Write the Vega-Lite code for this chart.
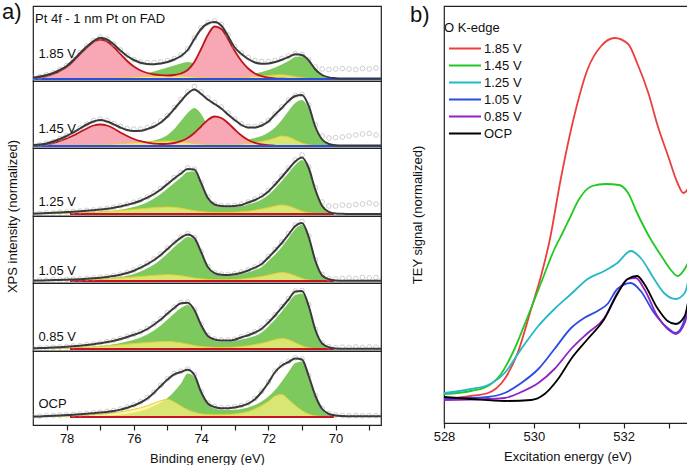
{
"$schema": "https://vega.github.io/schema/vega-lite/v6.json",
"padding": {"left": 2, "top": 1, "right": 0, "bottom": 0},
"config": {
  "font": "Liberation Sans",
  "view": {"stroke": "#222222", "strokeWidth": 1.2},
  "axis": {"labelFontSize": 13, "titleFontSize": 13, "titleFontWeight": "normal", "labelColor": "#111111", "titleColor": "#111111", "domainColor": "#222222", "tickColor": "#222222", "grid": false, "labelFlush": false},
  "legend": {"titleFontWeight": "normal", "titleFontSize": 13, "labelFontSize": 13, "labelColor": "#111111", "titleColor": "#111111"},
  "title": {"fontWeight": "normal", "color": "#111111"}
},
"resolve": {"scale": {"color": "independent"}, "legend": {"color": "independent"}},
"datasets": {
"xps": [
{"r":"1.85 V","e":79.0,"f":1.3,"g":0.2,"yl":0.2,"p":0.8,"d":1.5},
{"r":"1.85 V","e":78.8,"f":2.5,"g":0.3,"yl":0.2,"p":1.8,"d":2.2},
{"r":"1.85 V","e":78.6,"f":4,"g":0.3,"yl":0.3,"p":3,"d":4.3},
{"r":"1.85 V","e":78.4,"f":6,"g":0.4,"yl":0.3,"p":5,"d":6.2},
{"r":"1.85 V","e":78.2,"f":9,"g":0.5,"yl":0.4,"p":8,"d":9.5},
{"r":"1.85 V","e":78.0,"f":13,"g":0.6,"yl":0.4,"p":12,"d":13.5},
{"r":"1.85 V","e":77.8,"f":19,"g":0.7,"yl":0.5,"p":18,"d":19.5},
{"r":"1.85 V","e":77.6,"f":26,"g":0.8,"yl":0.5,"p":25,"d":26.5},
{"r":"1.85 V","e":77.4,"f":32.5,"g":1,"yl":0.6,"p":31.5,"d":33},
{"r":"1.85 V","e":77.2,"f":38,"g":1.2,"yl":0.6,"p":37,"d":38.5},
{"r":"1.85 V","e":77.0,"f":41.3,"g":1.4,"yl":0.7,"p":39.5,"d":42},
{"r":"1.85 V","e":76.8,"f":39.5,"g":1.7,"yl":0.8,"p":37.5,"d":40},
{"r":"1.85 V","e":76.6,"f":34.7,"g":2,"yl":1.0,"p":32,"d":35},
{"r":"1.85 V","e":76.4,"f":28.5,"g":2.5,"yl":1.2,"p":25,"d":29},
{"r":"1.85 V","e":76.2,"f":23,"g":3,"yl":1.5,"p":18,"d":23.5},
{"r":"1.85 V","e":76.0,"f":19,"g":3.8,"yl":1.9,"p":12.5,"d":19.5},
{"r":"1.85 V","e":75.8,"f":16.3,"g":4.8,"yl":2.3,"p":8.5,"d":17},
{"r":"1.85 V","e":75.6,"f":15,"g":6,"yl":2.7,"p":6,"d":16.5},
{"r":"1.85 V","e":75.4,"f":14.7,"g":7.5,"yl":3.0,"p":4.5,"d":16.5},
{"r":"1.85 V","e":75.2,"f":15.5,"g":9.5,"yl":3.3,"p":3.8,"d":17},
{"r":"1.85 V","e":75.0,"f":17,"g":11.5,"yl":3.5,"p":3.5,"d":18.5},
{"r":"1.85 V","e":74.8,"f":19.5,"g":13.5,"yl":3.3,"p":4,"d":20.5},
{"r":"1.85 V","e":74.6,"f":23,"g":15.5,"yl":3.0,"p":5.5,"d":24},
{"r":"1.85 V","e":74.4,"f":29,"g":17,"yl":2.4,"p":9,"d":30},
{"r":"1.85 V","e":74.2,"f":40,"g":15,"yl":1.8,"p":17,"d":41},
{"r":"1.85 V","e":74.0,"f":50,"g":10,"yl":1.4,"p":30,"d":51},
{"r":"1.85 V","e":73.8,"f":55.5,"g":5.5,"yl":1.0,"p":44,"d":56.5},
{"r":"1.85 V","e":73.6,"f":57,"g":3.5,"yl":0.9,"p":52.5,"d":58},
{"r":"1.85 V","e":73.4,"f":53.5,"g":3,"yl":0.8,"p":50,"d":54.5},
{"r":"1.85 V","e":73.2,"f":43,"g":3,"yl":0.9,"p":40,"d":44},
{"r":"1.85 V","e":73.0,"f":31.5,"g":3.3,"yl":1.0,"p":28,"d":32.5},
{"r":"1.85 V","e":72.8,"f":25,"g":3.8,"yl":1.4,"p":18,"d":26},
{"r":"1.85 V","e":72.6,"f":20,"g":4.5,"yl":1.8,"p":10.5,"d":21.5},
{"r":"1.85 V","e":72.4,"f":16.5,"g":5.5,"yl":2.4,"p":5.5,"d":18.5},
{"r":"1.85 V","e":72.2,"f":15.3,"g":7,"yl":3.0,"p":2.8,"d":17.5},
{"r":"1.85 V","e":72.0,"f":15.5,"g":9,"yl":3.5,"p":1.3,"d":17.5},
{"r":"1.85 V","e":71.8,"f":17,"g":11.5,"yl":4.0,"p":0.6,"d":18.5},
{"r":"1.85 V","e":71.6,"f":19.3,"g":14.5,"yl":4.2,"p":0.3,"d":20.5},
{"r":"1.85 V","e":71.4,"f":22,"g":18,"yl":3.5,"p":0.1,"d":23},
{"r":"1.85 V","e":71.2,"f":24.8,"g":22,"yl":2.3,"d":25.5},
{"r":"1.85 V","e":71.0,"f":24,"g":22.5,"yl":1.2,"d":24.5},
{"r":"1.85 V","e":70.8,"f":18.5,"g":17,"yl":0.5,"d":19},
{"r":"1.85 V","e":70.6,"f":9.5,"g":9,"yl":0.2,"d":12},
{"r":"1.85 V","e":70.4,"f":4,"g":3.5,"yl":0,"d":10},
{"r":"1.85 V","e":70.2,"f":1.6,"g":1.2,"d":9.5},
{"r":"1.85 V","e":70.0,"f":0.8,"g":0.4,"d":10},
{"r":"1.85 V","e":69.8,"f":0.5,"g":0.1,"d":10.5},
{"r":"1.85 V","e":69.6,"f":0.5,"d":10},
{"r":"1.85 V","e":69.4,"f":0.5,"d":9.5},
{"r":"1.85 V","e":69.2,"f":0.5,"d":10.5},
{"r":"1.85 V","e":69.0,"f":0.5,"d":10},
{"r":"1.85 V","e":68.8,"f":0.5,"d":11},
{"r":"1.85 V","e":68.6,"f":0.5,"d":10},
{"r":"1.45 V","e":79.0,"f":0.7,"g":0.2,"yl":0.2,"p":0.5,"d":0.8},
{"r":"1.45 V","e":78.8,"f":1.5,"g":0.2,"yl":0.25,"p":1,"d":1.3},
{"r":"1.45 V","e":78.6,"f":2.6,"g":0.3,"yl":0.3,"p":1.8,"d":2.8},
{"r":"1.45 V","e":78.4,"f":4.5,"g":0.3,"yl":0.4,"p":3,"d":4.3},
{"r":"1.45 V","e":78.2,"f":7,"g":0.4,"yl":0.5,"p":5,"d":7.5},
{"r":"1.45 V","e":78.0,"f":10,"g":0.5,"yl":0.6,"p":7.5,"d":10.5},
{"r":"1.45 V","e":77.8,"f":13.5,"g":0.6,"yl":0.7,"p":10.5,"d":14},
{"r":"1.45 V","e":77.6,"f":17.5,"g":0.7,"yl":0.85,"p":14,"d":18},
{"r":"1.45 V","e":77.4,"f":21.5,"g":0.8,"yl":1.0,"p":17.5,"d":22},
{"r":"1.45 V","e":77.2,"f":24.5,"g":0.9,"yl":1.2,"p":20.5,"d":25.5},
{"r":"1.45 V","e":77.0,"f":26,"g":1.0,"yl":1.4,"p":21.5,"d":27},
{"r":"1.45 V","e":76.8,"f":24.5,"g":1.1,"yl":1.7,"p":20.5,"d":25.5},
{"r":"1.45 V","e":76.6,"f":21.7,"g":1.3,"yl":2.0,"p":17.5,"d":22.5},
{"r":"1.45 V","e":76.4,"f":18.5,"g":1.6,"yl":2.4,"p":13.5,"d":19.5},
{"r":"1.45 V","e":76.2,"f":16,"g":2.0,"yl":2.8,"p":10,"d":17.5},
{"r":"1.45 V","e":76.0,"f":15,"g":2.5,"yl":3.2,"p":7,"d":17},
{"r":"1.45 V","e":75.8,"f":15.2,"g":3.0,"yl":3.7,"p":4.8,"d":17},
{"r":"1.45 V","e":75.6,"f":17,"g":4.0,"yl":4.1,"p":3.3,"d":18.5},
{"r":"1.45 V","e":75.4,"f":19.5,"g":5.5,"yl":4.5,"p":2.4,"d":21},
{"r":"1.45 V","e":75.2,"f":23.5,"g":7.5,"yl":4.8,"p":2,"d":25},
{"r":"1.45 V","e":75.0,"f":29.5,"g":11,"yl":5.0,"p":2.2,"d":30.5},
{"r":"1.45 V","e":74.8,"f":37,"g":17,"yl":4.8,"p":3,"d":38.5},
{"r":"1.45 V","e":74.6,"f":45,"g":25,"yl":4.3,"p":4.8,"d":46.5},
{"r":"1.45 V","e":74.4,"f":52.5,"g":33,"yl":3.5,"p":8,"d":54},
{"r":"1.45 V","e":74.2,"f":56.5,"g":38,"yl":2.6,"p":13,"d":59.5},
{"r":"1.45 V","e":74.0,"f":52,"g":32,"yl":2.0,"p":19.5,"d":54},
{"r":"1.45 V","e":73.8,"f":46.5,"g":20,"yl":1.5,"p":26,"d":48},
{"r":"1.45 V","e":73.6,"f":42,"g":11,"yl":1.3,"p":29.5,"d":43.5},
{"r":"1.45 V","e":73.4,"f":37.5,"g":7,"yl":1.2,"p":28,"d":39},
{"r":"1.45 V","e":73.2,"f":31.5,"g":5.5,"yl":1.3,"p":23,"d":33},
{"r":"1.45 V","e":73.0,"f":26,"g":5,"yl":1.5,"p":16.5,"d":27},
{"r":"1.45 V","e":72.8,"f":21,"g":5.5,"yl":2.0,"p":10.5,"d":22},
{"r":"1.45 V","e":72.6,"f":18.5,"g":6.5,"yl":2.5,"p":6,"d":19.5},
{"r":"1.45 V","e":72.4,"f":18.5,"g":8,"yl":3.4,"p":3.2,"d":19.5},
{"r":"1.45 V","e":72.2,"f":20.5,"g":10,"yl":4.5,"p":1.6,"d":21.5},
{"r":"1.45 V","e":72.0,"f":24.5,"g":13.5,"yl":6.0,"p":0.8,"d":25.5},
{"r":"1.45 V","e":71.8,"f":31.5,"g":18.5,"yl":8.0,"p":0.3,"d":32},
{"r":"1.45 V","e":71.6,"f":38,"g":26,"yl":10.0,"d":39},
{"r":"1.45 V","e":71.4,"f":45,"g":35,"yl":9.0,"d":46},
{"r":"1.45 V","e":71.2,"f":50,"g":43,"yl":6.0,"d":50.5},
{"r":"1.45 V","e":71.0,"f":51,"g":46,"yl":3.0,"d":51.5},
{"r":"1.45 V","e":70.8,"f":40,"g":37,"yl":1.2,"d":41},
{"r":"1.45 V","e":70.6,"f":19,"g":17,"yl":0.4,"d":21},
{"r":"1.45 V","e":70.4,"f":6.5,"g":5.5,"yl":0.1,"d":10},
{"r":"1.45 V","e":70.2,"f":2,"g":1.5,"d":8},
{"r":"1.45 V","e":70.0,"f":0.8,"g":0.4,"d":8.5},
{"r":"1.45 V","e":69.8,"f":0.5,"g":0.1,"d":9},
{"r":"1.45 V","e":69.6,"f":0.5,"d":10},
{"r":"1.45 V","e":69.4,"f":0.5,"d":11},
{"r":"1.45 V","e":69.2,"f":0.5,"d":12},
{"r":"1.45 V","e":69.0,"f":0.5,"d":12.5},
{"r":"1.45 V","e":68.8,"f":0.5,"d":11},
{"r":"1.45 V","e":68.6,"f":0.5,"d":8.5},
{"r":"1.25 V","e":79.0,"f":0.3,"g":0.1,"yl":0.2,"d":0.5},
{"r":"1.25 V","e":78.8,"f":0.6,"g":0.2,"yl":0.3,"d":0.4},
{"r":"1.25 V","e":78.6,"f":0.9,"g":0.3,"yl":0.4,"d":1.2},
{"r":"1.25 V","e":78.4,"f":1.2,"g":0.4,"yl":0.55,"d":1.0},
{"r":"1.25 V","e":78.2,"f":1.5,"g":0.5,"yl":0.7,"d":1.8},
{"r":"1.25 V","e":78.0,"f":1.9,"g":0.7,"yl":0.85,"d":2.0},
{"r":"1.25 V","e":77.8,"f":2.3,"g":0.9,"yl":1.0,"d":2.5},
{"r":"1.25 V","e":77.6,"f":2.8,"g":1.1,"yl":1.2,"d":3.0},
{"r":"1.25 V","e":77.4,"f":3.3,"g":1.4,"yl":1.5,"d":3.6},
{"r":"1.25 V","e":77.2,"f":3.8,"g":1.7,"yl":1.8,"d":4.0},
{"r":"1.25 V","e":77.0,"f":4.4,"g":2.1,"yl":2.2,"d":4.8},
{"r":"1.25 V","e":76.8,"f":5.2,"g":2.6,"yl":2.6,"d":5.5},
{"r":"1.25 V","e":76.6,"f":6.3,"g":3.3,"yl":3.0,"d":6.8},
{"r":"1.25 V","e":76.4,"f":7.6,"g":4.2,"yl":3.5,"d":8.2},
{"r":"1.25 V","e":76.2,"f":9.2,"g":5.4,"yl":4.0,"d":9.8},
{"r":"1.25 V","e":76.0,"f":11,"g":7,"yl":4.6,"d":11.8},
{"r":"1.25 V","e":75.8,"f":13.3,"g":9,"yl":5.2,"d":14},
{"r":"1.25 V","e":75.6,"f":16.3,"g":11.8,"yl":5.8,"d":17},
{"r":"1.25 V","e":75.4,"f":20,"g":15.5,"yl":6.3,"d":21},
{"r":"1.25 V","e":75.2,"f":24.5,"g":20,"yl":6.7,"d":25.5},
{"r":"1.25 V","e":75.0,"f":30,"g":25.5,"yl":7.0,"d":31},
{"r":"1.25 V","e":74.8,"f":35.5,"g":31,"yl":6.6,"d":36.5},
{"r":"1.25 V","e":74.6,"f":40.5,"g":36.5,"yl":5.8,"d":41.5},
{"r":"1.25 V","e":74.4,"f":45,"g":42,"yl":4.6,"d":46},
{"r":"1.25 V","e":74.2,"f":44.5,"g":42.5,"yl":3.3,"d":45},
{"r":"1.25 V","e":74.0,"f":31,"g":29.5,"yl":2.4,"d":31.5},
{"r":"1.25 V","e":73.8,"f":16,"g":15,"yl":1.8,"d":17},
{"r":"1.25 V","e":73.6,"f":9.5,"g":8.5,"yl":1.5,"d":10},
{"r":"1.25 V","e":73.4,"f":8,"g":7,"yl":1.4,"d":8.5},
{"r":"1.25 V","e":73.2,"f":7.7,"g":6.7,"yl":1.5,"d":8.2},
{"r":"1.25 V","e":73.0,"f":8,"g":7,"yl":1.7,"d":8.5},
{"r":"1.25 V","e":72.8,"f":9,"g":7.8,"yl":2.2,"d":9.8},
{"r":"1.25 V","e":72.6,"f":11.5,"g":9.5,"yl":2.8,"d":12},
{"r":"1.25 V","e":72.4,"f":14,"g":11.5,"yl":3.8,"d":15},
{"r":"1.25 V","e":72.2,"f":17.5,"g":14.5,"yl":5.0,"d":18.5},
{"r":"1.25 V","e":72.0,"f":22.5,"g":19,"yl":6.4,"d":23.5},
{"r":"1.25 V","e":71.8,"f":29.5,"g":25.5,"yl":8.0,"d":30.5},
{"r":"1.25 V","e":71.6,"f":37,"g":33,"yl":9.0,"d":38},
{"r":"1.25 V","e":71.4,"f":45,"g":41,"yl":8.0,"d":46},
{"r":"1.25 V","e":71.2,"f":52.5,"g":49,"yl":5.5,"d":54},
{"r":"1.25 V","e":71.0,"f":56.5,"g":54,"yl":2.8,"d":59},
{"r":"1.25 V","e":70.8,"f":46,"g":44.5,"yl":1.1,"d":47},
{"r":"1.25 V","e":70.6,"f":24,"g":23,"yl":0.4,"d":26},
{"r":"1.25 V","e":70.4,"f":8,"g":7.5,"yl":0.1,"d":12},
{"r":"1.25 V","e":70.2,"f":2.2,"g":2,"d":8},
{"r":"1.25 V","e":70.0,"f":0.6,"g":0.5,"d":8},
{"r":"1.25 V","e":69.8,"f":0.2,"g":0.1,"d":9},
{"r":"1.25 V","e":69.6,"f":0,"d":8.5},
{"r":"1.25 V","e":69.4,"f":0,"d":9.5},
{"r":"1.25 V","e":69.2,"f":0,"d":10},
{"r":"1.25 V","e":69.0,"f":0,"d":11},
{"r":"1.25 V","e":68.8,"f":0,"d":10},
{"r":"1.25 V","e":68.6,"f":0,"d":9.5},
{"r":"1.05 V","e":79.0,"f":0.3,"g":0.1,"yl":0.2,"d":0.3},
{"r":"1.05 V","e":78.8,"f":0.5,"g":0.2,"yl":0.25,"d":0.8},
{"r":"1.05 V","e":78.6,"f":0.7,"g":0.3,"yl":0.3,"d":0.6},
{"r":"1.05 V","e":78.4,"f":0.9,"g":0.4,"yl":0.4,"d":1.2},
{"r":"1.05 V","e":78.2,"f":1.1,"g":0.5,"yl":0.5,"d":1.0},
{"r":"1.05 V","e":78.0,"f":1.3,"g":0.6,"yl":0.65,"d":1.6},
{"r":"1.05 V","e":77.8,"f":1.5,"g":0.7,"yl":0.8,"d":1.8},
{"r":"1.05 V","e":77.6,"f":1.8,"g":0.9,"yl":1.0,"d":2.0},
{"r":"1.05 V","e":77.4,"f":2.2,"g":1.1,"yl":1.2,"d":2.6},
{"r":"1.05 V","e":77.2,"f":2.7,"g":1.4,"yl":1.5,"d":3.0},
{"r":"1.05 V","e":77.0,"f":3.3,"g":1.8,"yl":1.8,"d":3.7},
{"r":"1.05 V","e":76.8,"f":4.1,"g":2.3,"yl":2.2,"d":4.5},
{"r":"1.05 V","e":76.6,"f":5,"g":3,"yl":2.6,"d":5.4},
{"r":"1.05 V","e":76.4,"f":6.3,"g":3.9,"yl":3.0,"d":6.8},
{"r":"1.05 V","e":76.2,"f":8,"g":5.2,"yl":3.5,"d":8.5},
{"r":"1.05 V","e":76.0,"f":10.3,"g":7,"yl":4.0,"d":11},
{"r":"1.05 V","e":75.8,"f":13.3,"g":9.5,"yl":4.6,"d":14},
{"r":"1.05 V","e":75.6,"f":17,"g":12.8,"yl":5.1,"d":17.8},
{"r":"1.05 V","e":75.4,"f":21,"g":16.5,"yl":5.6,"d":22},
{"r":"1.05 V","e":75.2,"f":26,"g":21.5,"yl":6.0,"d":27},
{"r":"1.05 V","e":75.0,"f":32,"g":27.5,"yl":6.3,"d":33},
{"r":"1.05 V","e":74.8,"f":38,"g":34,"yl":6.0,"d":38.8},
{"r":"1.05 V","e":74.6,"f":43.3,"g":39.5,"yl":5.3,"d":44},
{"r":"1.05 V","e":74.4,"f":46.5,"g":44,"yl":4.2,"d":47.3},
{"r":"1.05 V","e":74.2,"f":43,"g":41.5,"yl":3.0,"d":43.5},
{"r":"1.05 V","e":74.0,"f":29,"g":27.5,"yl":2.2,"d":29.5},
{"r":"1.05 V","e":73.8,"f":14,"g":13,"yl":1.6,"d":14.5},
{"r":"1.05 V","e":73.6,"f":7.8,"g":7,"yl":1.35,"d":8.3},
{"r":"1.05 V","e":73.4,"f":6.2,"g":5.5,"yl":1.2,"d":6.8},
{"r":"1.05 V","e":73.2,"f":6,"g":5.3,"yl":1.3,"d":6.5},
{"r":"1.05 V","e":73.0,"f":6.7,"g":5.8,"yl":1.5,"d":7.2},
{"r":"1.05 V","e":72.8,"f":8.3,"g":7,"yl":2.0,"d":9},
{"r":"1.05 V","e":72.6,"f":10.5,"g":8.8,"yl":2.6,"d":11.2},
{"r":"1.05 V","e":72.4,"f":13.3,"g":11,"yl":3.5,"d":14},
{"r":"1.05 V","e":72.2,"f":17,"g":14,"yl":4.6,"d":18},
{"r":"1.05 V","e":72.0,"f":23.5,"g":20,"yl":5.9,"d":24.5},
{"r":"1.05 V","e":71.8,"f":30.5,"g":26.5,"yl":7.5,"d":31.5},
{"r":"1.05 V","e":71.6,"f":38,"g":34,"yl":8.5,"d":39},
{"r":"1.05 V","e":71.4,"f":46.5,"g":43,"yl":7.6,"d":47.5},
{"r":"1.05 V","e":71.2,"f":55,"g":52,"yl":5.2,"d":56},
{"r":"1.05 V","e":71.0,"f":58,"g":56,"yl":2.6,"d":59.5},
{"r":"1.05 V","e":70.8,"f":44,"g":42.5,"yl":1.0,"d":45},
{"r":"1.05 V","e":70.6,"f":20,"g":19,"yl":0.3,"d":21},
{"r":"1.05 V","e":70.4,"f":5.5,"g":5,"yl":0.1,"d":6.5},
{"r":"1.05 V","e":70.2,"f":1.8,"g":1.5,"d":2.5},
{"r":"1.05 V","e":70.0,"f":0.6,"g":0.4,"d":2},
{"r":"1.05 V","e":69.8,"f":0.3,"g":0.1,"d":2.5},
{"r":"1.05 V","e":69.6,"f":0.3,"d":3},
{"r":"1.05 V","e":69.4,"f":0.3,"d":2.5},
{"r":"1.05 V","e":69.2,"f":0.3,"d":3.5},
{"r":"1.05 V","e":69.0,"f":0.3,"d":3},
{"r":"1.05 V","e":68.8,"f":0.3,"d":3.5},
{"r":"1.05 V","e":68.6,"f":0.3,"d":3},
{"r":"0.85 V","e":79.0,"f":0.7,"g":0.2,"yl":0.3,"d":0.8},
{"r":"0.85 V","e":78.8,"f":0.9,"g":0.3,"yl":0.4,"d":1.1},
{"r":"0.85 V","e":78.6,"f":1.1,"g":0.4,"yl":0.5,"d":1.0},
{"r":"0.85 V","e":78.4,"f":1.4,"g":0.5,"yl":0.65,"d":1.6},
{"r":"0.85 V","e":78.2,"f":1.8,"g":0.7,"yl":0.8,"d":2.0},
{"r":"0.85 V","e":78.0,"f":2.2,"g":0.9,"yl":1.0,"d":2.3},
{"r":"0.85 V","e":77.8,"f":2.7,"g":1.1,"yl":1.2,"d":3.0},
{"r":"0.85 V","e":77.6,"f":3.3,"g":1.4,"yl":1.5,"d":3.5},
{"r":"0.85 V","e":77.4,"f":4,"g":1.8,"yl":1.8,"d":4.3},
{"r":"0.85 V","e":77.2,"f":4.8,"g":2.3,"yl":2.2,"d":5.1},
{"r":"0.85 V","e":77.0,"f":5.7,"g":2.9,"yl":2.6,"d":6.0},
{"r":"0.85 V","e":76.8,"f":6.9,"g":3.7,"yl":3.1,"d":7.3},
{"r":"0.85 V","e":76.6,"f":8.3,"g":4.7,"yl":3.6,"d":8.8},
{"r":"0.85 V","e":76.4,"f":10,"g":6,"yl":4.2,"d":10.5},
{"r":"0.85 V","e":76.2,"f":12,"g":7.5,"yl":4.8,"d":12.5},
{"r":"0.85 V","e":76.0,"f":14.2,"g":9.2,"yl":5.4,"d":14.8},
{"r":"0.85 V","e":75.8,"f":16.7,"g":11.5,"yl":6.0,"d":17.3},
{"r":"0.85 V","e":75.6,"f":20,"g":14.5,"yl":6.5,"d":20.7},
{"r":"0.85 V","e":75.4,"f":24.5,"g":18.5,"yl":7.0,"d":25.2},
{"r":"0.85 V","e":75.2,"f":29.5,"g":23.5,"yl":7.3,"d":30.3},
{"r":"0.85 V","e":75.0,"f":35.5,"g":29.5,"yl":7.5,"d":36.3},
{"r":"0.85 V","e":74.8,"f":41,"g":35.5,"yl":7.1,"d":41.8},
{"r":"0.85 V","e":74.6,"f":45.8,"g":41,"yl":6.2,"d":46.5},
{"r":"0.85 V","e":74.4,"f":46.3,"g":44,"yl":4.9,"d":47},
{"r":"0.85 V","e":74.2,"f":39,"g":37.5,"yl":3.5,"d":39.5},
{"r":"0.85 V","e":74.0,"f":24,"g":22.5,"yl":2.5,"d":24.5},
{"r":"0.85 V","e":73.8,"f":13,"g":11.8,"yl":1.9,"d":13.5},
{"r":"0.85 V","e":73.6,"f":9.5,"g":8.3,"yl":1.6,"d":10},
{"r":"0.85 V","e":73.4,"f":8.5,"g":7.3,"yl":1.5,"d":9},
{"r":"0.85 V","e":73.2,"f":8.4,"g":7.2,"yl":1.6,"d":9},
{"r":"0.85 V","e":73.0,"f":9.3,"g":8,"yl":1.9,"d":9.8},
{"r":"0.85 V","e":72.8,"f":11.7,"g":9.5,"yl":2.5,"d":12.3},
{"r":"0.85 V","e":72.6,"f":13.8,"g":11,"yl":3.2,"d":14.5},
{"r":"0.85 V","e":72.4,"f":16.5,"g":13,"yl":4.4,"d":17.2},
{"r":"0.85 V","e":72.2,"f":20.3,"g":16.5,"yl":5.8,"d":21},
{"r":"0.85 V","e":72.0,"f":26.5,"g":22.5,"yl":7.5,"d":27.3},
{"r":"0.85 V","e":71.8,"f":33.5,"g":29.5,"yl":9.3,"d":34.3},
{"r":"0.85 V","e":71.6,"f":41.5,"g":37.5,"yl":10.5,"d":42.3},
{"r":"0.85 V","e":71.4,"f":49.5,"g":46,"yl":9.3,"d":50.5},
{"r":"0.85 V","e":71.2,"f":57.5,"g":54,"yl":6.4,"d":58},
{"r":"0.85 V","e":71.0,"f":58,"g":55.5,"yl":3.2,"d":58.5},
{"r":"0.85 V","e":70.8,"f":43,"g":41.5,"yl":1.2,"d":44},
{"r":"0.85 V","e":70.6,"f":19,"g":18,"yl":0.4,"d":19.5},
{"r":"0.85 V","e":70.4,"f":5.5,"g":5,"yl":0.1,"d":6},
{"r":"0.85 V","e":70.2,"f":1.8,"g":1.5,"d":2.3},
{"r":"0.85 V","e":70.0,"f":0.6,"g":0.4,"d":1.5},
{"r":"0.85 V","e":69.8,"f":0.3,"g":0.1,"d":1.8},
{"r":"0.85 V","e":69.6,"f":0.3,"d":1.5},
{"r":"0.85 V","e":69.4,"f":0.3,"d":2},
{"r":"0.85 V","e":69.2,"f":0.3,"d":1.6},
{"r":"0.85 V","e":69.0,"f":0.3,"d":2},
{"r":"0.85 V","e":68.8,"f":0.3,"d":1.8},
{"r":"0.85 V","e":68.6,"f":0.3,"d":2},
{"r":"OCP","e":79.0,"f":0.3,"g":0.1,"yl":0.2,"d":0.5},
{"r":"OCP","e":78.8,"f":0.6,"g":0.1,"yl":0.3,"d":0.8},
{"r":"OCP","e":78.6,"f":0.9,"g":0.2,"yl":0.4,"d":1.2},
{"r":"OCP","e":78.4,"f":1.2,"g":0.2,"yl":0.5,"d":1.4},
{"r":"OCP","e":78.2,"f":1.5,"g":0.3,"yl":0.7,"d":1.8},
{"r":"OCP","e":78.0,"f":1.9,"g":0.4,"yl":0.9,"d":2.2},
{"r":"OCP","e":77.8,"f":2.3,"g":0.5,"yl":1.1,"d":2.6},
{"r":"OCP","e":77.6,"f":2.7,"g":0.6,"yl":1.4,"d":3.0},
{"r":"OCP","e":77.4,"f":3.2,"g":0.7,"yl":1.8,"d":3.5},
{"r":"OCP","e":77.2,"f":3.8,"g":0.9,"yl":2.3,"d":4.2},
{"r":"OCP","e":77.0,"f":4.4,"g":1.1,"yl":2.8,"d":4.8},
{"r":"OCP","e":76.8,"f":5.1,"g":1.4,"yl":3.4,"d":5.6},
{"r":"OCP","e":76.6,"f":6,"g":1.8,"yl":4.2,"d":6.5},
{"r":"OCP","e":76.4,"f":7.4,"g":2.4,"yl":5.1,"d":8},
{"r":"OCP","e":76.2,"f":9.3,"g":3.2,"yl":6.3,"d":10},
{"r":"OCP","e":76.0,"f":11.5,"g":4.3,"yl":7.7,"d":12.2},
{"r":"OCP","e":75.8,"f":14.5,"g":5.8,"yl":9.3,"d":15.3},
{"r":"OCP","e":75.6,"f":18.5,"g":8,"yl":11.3,"d":19.3},
{"r":"OCP","e":75.4,"f":24.3,"g":11,"yl":13.8,"d":25},
{"r":"OCP","e":75.2,"f":31,"g":14.5,"yl":16.3,"d":31.7},
{"r":"OCP","e":75.0,"f":37.5,"g":19,"yl":17.7,"d":38.3},
{"r":"OCP","e":74.8,"f":42.7,"g":25.5,"yl":15,"d":43.5},
{"r":"OCP","e":74.6,"f":45,"g":33.5,"yl":11,"d":45.8},
{"r":"OCP","e":74.4,"f":47.3,"g":43.5,"yl":7.3,"d":48},
{"r":"OCP","e":74.2,"f":42,"g":40,"yl":4.7,"d":42.5},
{"r":"OCP","e":74.0,"f":25,"g":23.5,"yl":3.2,"d":25.5},
{"r":"OCP","e":73.8,"f":13.5,"g":12.5,"yl":2.5,"d":14},
{"r":"OCP","e":73.6,"f":10,"g":8.5,"yl":2.2,"d":10.5},
{"r":"OCP","e":73.4,"f":8.7,"g":7.2,"yl":2.2,"d":9.3},
{"r":"OCP","e":73.2,"f":8.7,"g":7,"yl":2.5,"d":9.3},
{"r":"OCP","e":73.0,"f":9.5,"g":7.2,"yl":3.0,"d":10.2},
{"r":"OCP","e":72.8,"f":11,"g":8,"yl":4.0,"d":11.7},
{"r":"OCP","e":72.6,"f":13.3,"g":9.5,"yl":5.5,"d":14},
{"r":"OCP","e":72.4,"f":17.7,"g":12,"yl":8.0,"d":18.5},
{"r":"OCP","e":72.2,"f":25,"g":15.5,"yl":11.5,"d":25.8},
{"r":"OCP","e":72.0,"f":34.3,"g":20.5,"yl":15.5,"d":35},
{"r":"OCP","e":71.8,"f":45,"g":27,"yl":21,"d":45.8},
{"r":"OCP","e":71.6,"f":51.5,"g":35.5,"yl":22.5,"d":52.2},
{"r":"OCP","e":71.4,"f":55,"g":45,"yl":17.5,"d":55.8},
{"r":"OCP","e":71.2,"f":58.5,"g":54,"yl":11.5,"d":59.2},
{"r":"OCP","e":71.0,"f":57.5,"g":55.5,"yl":6.5,"d":58},
{"r":"OCP","e":70.8,"f":41,"g":40,"yl":3.0,"d":41.5},
{"r":"OCP","e":70.6,"f":21,"g":20,"yl":1.2,"d":21.5},
{"r":"OCP","e":70.4,"f":8,"g":7,"yl":0.4,"d":8.5},
{"r":"OCP","e":70.2,"f":3,"g":2,"yl":0.1,"d":3.5},
{"r":"OCP","e":70.0,"f":1.5,"g":0.5,"d":2},
{"r":"OCP","e":69.8,"f":1,"g":0.1,"d":1.5},
{"r":"OCP","e":69.6,"f":0.8,"d":1.3},
{"r":"OCP","e":69.4,"f":0.8,"d":1.5},
{"r":"OCP","e":69.2,"f":0.8,"d":1.2},
{"r":"OCP","e":69.0,"f":0.8,"d":1.4},
{"r":"OCP","e":68.8,"f":0.8,"d":1.3},
{"r":"OCP","e":68.6,"f":0.8,"d":1.5}
],
"xas": [
{"s":"1.85 V","e":528,"t":0.24},{"s":"1.85 V","e":528.6,"t":0.27},{"s":"1.85 V","e":528.98,"t":0.30},{"s":"1.85 V","e":529.35,"t":0.44},{"s":"1.85 V","e":529.64,"t":0.70},{"s":"1.85 V","e":529.94,"t":1.14},{"s":"1.85 V","e":530.16,"t":1.47},{"s":"1.85 V","e":530.35,"t":1.82},{"s":"1.85 V","e":530.6,"t":2.44},{"s":"1.85 V","e":530.9,"t":3.07},{"s":"1.85 V","e":531.2,"t":3.54},{"s":"1.85 V","e":531.5,"t":3.77},{"s":"1.85 V","e":531.8,"t":3.85},{"s":"1.85 V","e":532.1,"t":3.79},{"s":"1.85 V","e":532.3,"t":3.60},{"s":"1.85 V","e":532.55,"t":3.30},{"s":"1.85 V","e":532.76,"t":2.97},{"s":"1.85 V","e":532.99,"t":2.67},{"s":"1.85 V","e":533.2,"t":2.40},{"s":"1.85 V","e":533.33,"t":2.30},{"s":"1.85 V","e":533.44,"t":2.35},{"s":"1.85 V","e":533.5,"t":2.44},
{"s":"1.45 V","e":528,"t":0.29},{"s":"1.45 V","e":528.6,"t":0.32},{"s":"1.45 V","e":528.98,"t":0.37},{"s":"1.45 V","e":529.27,"t":0.49},{"s":"1.45 V","e":529.57,"t":0.74},{"s":"1.45 V","e":529.87,"t":1.07},{"s":"1.45 V","e":530.16,"t":1.40},{"s":"1.45 V","e":530.46,"t":1.74},{"s":"1.45 V","e":530.64,"t":1.90},{"s":"1.45 V","e":530.79,"t":2.04},{"s":"1.45 V","e":531.01,"t":2.24},{"s":"1.45 V","e":531.3,"t":2.37},{"s":"1.45 V","e":531.6,"t":2.39},{"s":"1.45 V","e":531.9,"t":2.38},{"s":"1.45 V","e":532.1,"t":2.30},{"s":"1.45 V","e":532.3,"t":2.10},{"s":"1.45 V","e":532.6,"t":1.84},{"s":"1.45 V","e":532.84,"t":1.67},{"s":"1.45 V","e":533.07,"t":1.52},{"s":"1.45 V","e":533.2,"t":1.47},{"s":"1.45 V","e":533.36,"t":1.54},{"s":"1.45 V","e":533.5,"t":1.67},
{"s":"1.25 V","e":528,"t":0.30},{"s":"1.25 V","e":528.6,"t":0.34},{"s":"1.25 V","e":528.98,"t":0.38},{"s":"1.25 V","e":529.35,"t":0.50},{"s":"1.25 V","e":529.72,"t":0.74},{"s":"1.25 V","e":530.1,"t":0.97},{"s":"1.25 V","e":530.46,"t":1.14},{"s":"1.25 V","e":530.83,"t":1.29},{"s":"1.25 V","e":531.2,"t":1.44},{"s":"1.25 V","e":531.57,"t":1.52},{"s":"1.25 V","e":531.86,"t":1.60},{"s":"1.25 V","e":532.16,"t":1.72},{"s":"1.25 V","e":532.38,"t":1.65},{"s":"1.25 V","e":532.68,"t":1.44},{"s":"1.25 V","e":532.9,"t":1.30},{"s":"1.25 V","e":533.16,"t":1.24},{"s":"1.25 V","e":533.36,"t":1.30},{"s":"1.25 V","e":533.5,"t":1.57},
{"s":"1.05 V","e":528,"t":0.25},{"s":"1.05 V","e":528.6,"t":0.25},{"s":"1.05 V","e":528.98,"t":0.26},{"s":"1.05 V","e":529.35,"t":0.30},{"s":"1.05 V","e":529.72,"t":0.40},{"s":"1.05 V","e":530.1,"t":0.54},{"s":"1.05 V","e":530.46,"t":0.74},{"s":"1.05 V","e":530.83,"t":0.95},{"s":"1.05 V","e":531.12,"t":1.05},{"s":"1.05 V","e":531.42,"t":1.12},{"s":"1.05 V","e":531.64,"t":1.19},{"s":"1.05 V","e":531.86,"t":1.34},{"s":"1.05 V","e":532.16,"t":1.40},{"s":"1.05 V","e":532.38,"t":1.32},{"s":"1.05 V","e":532.68,"t":1.10},{"s":"1.05 V","e":532.98,"t":0.95},{"s":"1.05 V","e":533.16,"t":0.90},{"s":"1.05 V","e":533.36,"t":1.04},{"s":"1.05 V","e":533.5,"t":1.37},
{"s":"0.85 V","e":528,"t":0.23},{"s":"0.85 V","e":528.98,"t":0.24},{"s":"0.85 V","e":529.35,"t":0.25},{"s":"0.85 V","e":529.72,"t":0.31},{"s":"0.85 V","e":530.1,"t":0.40},{"s":"0.85 V","e":530.46,"t":0.54},{"s":"0.85 V","e":530.83,"t":0.74},{"s":"0.85 V","e":531.2,"t":0.90},{"s":"0.85 V","e":531.57,"t":1.05},{"s":"0.85 V","e":531.86,"t":1.30},{"s":"0.85 V","e":532.09,"t":1.44},{"s":"0.85 V","e":532.27,"t":1.45},{"s":"0.85 V","e":532.46,"t":1.34},{"s":"0.85 V","e":532.75,"t":1.07},{"s":"0.85 V","e":532.98,"t":0.94},{"s":"0.85 V","e":533.16,"t":0.89},{"s":"0.85 V","e":533.36,"t":1.00},{"s":"0.85 V","e":533.5,"t":1.34},
{"s":"OCP","e":528,"t":0.26},{"s":"OCP","e":528.6,"t":0.24},{"s":"OCP","e":529.35,"t":0.22},{"s":"OCP","e":529.94,"t":0.23},{"s":"OCP","e":530.24,"t":0.29},{"s":"OCP","e":530.54,"t":0.44},{"s":"OCP","e":530.83,"t":0.64},{"s":"OCP","e":531.2,"t":0.84},{"s":"OCP","e":531.57,"t":1.04},{"s":"OCP","e":531.86,"t":1.29},{"s":"OCP","e":532.09,"t":1.44},{"s":"OCP","e":532.3,"t":1.47},{"s":"OCP","e":532.46,"t":1.39},{"s":"OCP","e":532.75,"t":1.15},{"s":"OCP","e":532.98,"t":1.02},{"s":"OCP","e":533.16,"t":0.99},{"s":"OCP","e":533.36,"t":1.07},{"s":"OCP","e":533.5,"t":1.40}
]
},
"hconcat": [
{
"data": {"name": "xps"},
"bounds": "flush",
"spacing": 0,
"title": {"text": "a)", "anchor": "start", "frame": "group", "dx": -31, "offset": -19, "fontSize": 22, "fontWeight": "normal"},
"vconcat": [
{
"width": 348, "height": 75,
"transform": [{"filter": "datum.r === '1.85 V'"}],
"encoding": {"x": {"field": "e", "type": "quantitative", "scale": {"domain": [68.65, 79], "reverse": true, "nice": false, "zero": false}, "axis": null}},
"layer": [
{"mark": {"type": "area", "color": "#7dc95e", "interpolate": "monotone", "clip": true}, "encoding": {"y": {"field": "g", "type": "quantitative", "scale": {"domain": [-2, 73], "nice": false, "zero": false}, "axis": null}, "y2": {"datum": 0}}},
{"mark": {"type": "area", "color": "#f7a8b4", "interpolate": "monotone", "clip": true}, "encoding": {"y": {"field": "p", "type": "quantitative", "scale": {"domain": [-2, 73], "nice": false, "zero": false}, "axis": null}, "y2": {"datum": 0}}},
{"mark": {"type": "area", "color": "#fff27c", "interpolate": "monotone", "clip": true, "line": {"color": "#e9cd35", "strokeWidth": 1}}, "encoding": {"y": {"field": "yl", "type": "quantitative", "scale": {"domain": [-2, 73], "nice": false, "zero": false}, "axis": null}, "y2": {"datum": 0}}},
{"mark": {"type": "line", "color": "#c0141c", "strokeWidth": 1.8, "interpolate": "monotone", "clip": true}, "encoding": {"y": {"field": "p", "type": "quantitative", "scale": {"domain": [-2, 73], "nice": false, "zero": false}, "axis": null}}},
{"transform": [{"filter": "datum.e === 79"}], "mark": {"type": "rule", "color": "#2b4fd8", "strokeWidth": 1.8}, "encoding": {"x": {"datum": 79, "axis": null}, "x2": {"datum": 68.65}, "y": {"datum": 0, "axis": null}}},
{"mark": {"type": "point", "filled": false, "color": "#a9a9a9", "size": 22, "strokeWidth": 0.8, "clip": true}, "encoding": {"y": {"field": "d", "type": "quantitative", "scale": {"domain": [-2, 73], "nice": false, "zero": false}, "axis": null}}},
{"mark": {"type": "line", "color": "#3a3a3a", "strokeWidth": 2, "interpolate": "monotone", "clip": true}, "encoding": {"y": {"field": "f", "type": "quantitative", "scale": {"domain": [-2, 73], "nice": false, "zero": false}, "axis": null}}},
{"transform": [{"filter": "datum.e === 79"}], "mark": {"type": "text", "align": "left", "baseline": "middle", "fontSize": 13, "color": "#111111"}, "encoding": {"x": {"datum": 78.84, "axis": null}, "y": {"datum": 24.7, "axis": null}, "text": {"value": "1.85 V"}}},
{"transform": [{"filter": "datum.e === 79"}], "mark": {"type": "text", "align": "left", "baseline": "middle", "fontSize": 13, "color": "#111111"}, "encoding": {"x": {"datum": 78.94, "axis": null}, "y": {"datum": 60.3, "axis": null}, "text": {"value": "Pt 4f - 1 nm Pt on FAD"}}}
]
},
{
"width": 348, "height": 67,
"transform": [{"filter": "datum.r === '1.45 V'"}],
"encoding": {"x": {"field": "e", "type": "quantitative", "scale": {"domain": [68.65, 79], "reverse": true, "nice": false, "zero": false}, "axis": null}},
"layer": [
{"mark": {"type": "area", "color": "#7dc95e", "interpolate": "monotone", "clip": true}, "encoding": {"y": {"field": "g", "type": "quantitative", "scale": {"domain": [-2, 65], "nice": false, "zero": false}, "axis": null}, "y2": {"datum": 0}}},
{"mark": {"type": "area", "color": "#f7a8b4", "interpolate": "monotone", "clip": true}, "encoding": {"y": {"field": "p", "type": "quantitative", "scale": {"domain": [-2, 65], "nice": false, "zero": false}, "axis": null}, "y2": {"datum": 0}}},
{"mark": {"type": "area", "color": "#fff27c", "interpolate": "monotone", "clip": true, "line": {"color": "#e9cd35", "strokeWidth": 1}}, "encoding": {"y": {"field": "yl", "type": "quantitative", "scale": {"domain": [-2, 65], "nice": false, "zero": false}, "axis": null}, "y2": {"datum": 0}}},
{"mark": {"type": "line", "color": "#c0141c", "strokeWidth": 1.8, "interpolate": "monotone", "clip": true}, "encoding": {"y": {"field": "p", "type": "quantitative", "scale": {"domain": [-2, 65], "nice": false, "zero": false}, "axis": null}}},
{"transform": [{"filter": "datum.e === 79"}], "mark": {"type": "rule", "color": "#2b4fd8", "strokeWidth": 1.8}, "encoding": {"x": {"datum": 79, "axis": null}, "x2": {"datum": 68.65}, "y": {"datum": 0, "axis": null}}},
{"mark": {"type": "point", "filled": false, "color": "#a9a9a9", "size": 22, "strokeWidth": 0.8, "clip": true}, "encoding": {"y": {"field": "d", "type": "quantitative", "scale": {"domain": [-2, 65], "nice": false, "zero": false}, "axis": null}}},
{"mark": {"type": "line", "color": "#3a3a3a", "strokeWidth": 2, "interpolate": "monotone", "clip": true}, "encoding": {"y": {"field": "f", "type": "quantitative", "scale": {"domain": [-2, 65], "nice": false, "zero": false}, "axis": null}}},
{"transform": [{"filter": "datum.e === 79"}], "mark": {"type": "text", "align": "left", "baseline": "middle", "fontSize": 13, "color": "#111111"}, "encoding": {"x": {"datum": 78.84, "axis": null}, "y": {"datum": 16.7, "axis": null}, "text": {"value": "1.45 V"}}}
]
},
{
"width": 348, "height": 68,
"transform": [{"filter": "datum.r === '1.25 V'"}],
"encoding": {"x": {"field": "e", "type": "quantitative", "scale": {"domain": [68.65, 79], "reverse": true, "nice": false, "zero": false}, "axis": null}},
"layer": [
{"mark": {"type": "area", "color": "#7dc95e", "interpolate": "monotone", "clip": true}, "encoding": {"y": {"field": "g", "type": "quantitative", "scale": {"domain": [-2, 66], "nice": false, "zero": false}, "axis": {"title": "XPS intensity (normalized)", "labels": false, "ticks": false, "domain": false, "titleX": -14, "titleY": 68}}, "y2": {"datum": 0}}},
{"mark": {"type": "area", "color": "#fff27c", "interpolate": "monotone", "clip": true, "line": {"color": "#e9cd35", "strokeWidth": 1}}, "encoding": {"y": {"field": "yl", "type": "quantitative", "scale": {"domain": [-2, 66], "nice": false, "zero": false}, "axis": {"title": "XPS intensity (normalized)", "labels": false, "ticks": false, "domain": false, "titleX": -14, "titleY": 68}}, "y2": {"datum": 0}}},
{"transform": [{"filter": "datum.e === 79"}], "mark": {"type": "rule", "color": "#c8141e", "strokeWidth": 2}, "encoding": {"x": {"datum": 77.9, "axis": null}, "x2": {"datum": 70.05}, "y": {"datum": 0, "axis": {"title": "XPS intensity (normalized)", "labels": false, "ticks": false, "domain": false, "titleX": -14, "titleY": 68}}}},
{"mark": {"type": "point", "filled": false, "color": "#a9a9a9", "size": 22, "strokeWidth": 0.8, "clip": true}, "encoding": {"y": {"field": "d", "type": "quantitative", "scale": {"domain": [-2, 66], "nice": false, "zero": false}, "axis": {"title": "XPS intensity (normalized)", "labels": false, "ticks": false, "domain": false, "titleX": -14, "titleY": 68}}}},
{"mark": {"type": "line", "color": "#3a3a3a", "strokeWidth": 2, "interpolate": "monotone", "clip": true}, "encoding": {"y": {"field": "f", "type": "quantitative", "scale": {"domain": [-2, 66], "nice": false, "zero": false}, "axis": {"title": "XPS intensity (normalized)", "labels": false, "ticks": false, "domain": false, "titleX": -14, "titleY": 68}}}},
{"transform": [{"filter": "datum.e === 79"}], "mark": {"type": "text", "align": "left", "baseline": "middle", "fontSize": 13, "color": "#111111"}, "encoding": {"x": {"datum": 78.84, "axis": null}, "y": {"datum": 11.7, "axis": {"title": "XPS intensity (normalized)", "labels": false, "ticks": false, "domain": false, "titleX": -14, "titleY": 68}}, "text": {"value": "1.25 V"}}}
]
},
{
"width": 348, "height": 67,
"transform": [{"filter": "datum.r === '1.05 V'"}],
"encoding": {"x": {"field": "e", "type": "quantitative", "scale": {"domain": [68.65, 79], "reverse": true, "nice": false, "zero": false}, "axis": null}},
"layer": [
{"mark": {"type": "area", "color": "#7dc95e", "interpolate": "monotone", "clip": true}, "encoding": {"y": {"field": "g", "type": "quantitative", "scale": {"domain": [-2, 65], "nice": false, "zero": false}, "axis": null}, "y2": {"datum": 0}}},
{"mark": {"type": "area", "color": "#fff27c", "interpolate": "monotone", "clip": true, "line": {"color": "#e9cd35", "strokeWidth": 1}}, "encoding": {"y": {"field": "yl", "type": "quantitative", "scale": {"domain": [-2, 65], "nice": false, "zero": false}, "axis": null}, "y2": {"datum": 0}}},
{"transform": [{"filter": "datum.e === 79"}], "mark": {"type": "rule", "color": "#c8141e", "strokeWidth": 2}, "encoding": {"x": {"datum": 77.9, "axis": null}, "x2": {"datum": 70.05}, "y": {"datum": 0, "axis": null}}},
{"mark": {"type": "point", "filled": false, "color": "#a9a9a9", "size": 22, "strokeWidth": 0.8, "clip": true}, "encoding": {"y": {"field": "d", "type": "quantitative", "scale": {"domain": [-2, 65], "nice": false, "zero": false}, "axis": null}}},
{"mark": {"type": "line", "color": "#3a3a3a", "strokeWidth": 2, "interpolate": "monotone", "clip": true}, "encoding": {"y": {"field": "f", "type": "quantitative", "scale": {"domain": [-2, 65], "nice": false, "zero": false}, "axis": null}}},
{"transform": [{"filter": "datum.e === 79"}], "mark": {"type": "text", "align": "left", "baseline": "middle", "fontSize": 13, "color": "#111111"}, "encoding": {"x": {"datum": 78.84, "axis": null}, "y": {"datum": 10, "axis": null}, "text": {"value": "1.05 V"}}}
]
},
{
"width": 348, "height": 68,
"transform": [{"filter": "datum.r === '0.85 V'"}],
"encoding": {"x": {"field": "e", "type": "quantitative", "scale": {"domain": [68.65, 79], "reverse": true, "nice": false, "zero": false}, "axis": null}},
"layer": [
{"mark": {"type": "area", "color": "#7dc95e", "interpolate": "monotone", "clip": true}, "encoding": {"y": {"field": "g", "type": "quantitative", "scale": {"domain": [-2, 66], "nice": false, "zero": false}, "axis": null}, "y2": {"datum": 0}}},
{"mark": {"type": "area", "color": "#fff27c", "interpolate": "monotone", "clip": true, "line": {"color": "#e9cd35", "strokeWidth": 1}}, "encoding": {"y": {"field": "yl", "type": "quantitative", "scale": {"domain": [-2, 66], "nice": false, "zero": false}, "axis": null}, "y2": {"datum": 0}}},
{"transform": [{"filter": "datum.e === 79"}], "mark": {"type": "rule", "color": "#c8141e", "strokeWidth": 2}, "encoding": {"x": {"datum": 77.9, "axis": null}, "x2": {"datum": 70.05}, "y": {"datum": 0, "axis": null}}},
{"mark": {"type": "point", "filled": false, "color": "#a9a9a9", "size": 22, "strokeWidth": 0.8, "clip": true}, "encoding": {"y": {"field": "d", "type": "quantitative", "scale": {"domain": [-2, 66], "nice": false, "zero": false}, "axis": null}}},
{"mark": {"type": "line", "color": "#3a3a3a", "strokeWidth": 2, "interpolate": "monotone", "clip": true}, "encoding": {"y": {"field": "f", "type": "quantitative", "scale": {"domain": [-2, 66], "nice": false, "zero": false}, "axis": null}}},
{"transform": [{"filter": "datum.e === 79"}], "mark": {"type": "text", "align": "left", "baseline": "middle", "fontSize": 13, "color": "#111111"}, "encoding": {"x": {"datum": 78.84, "axis": null}, "y": {"datum": 12, "axis": null}, "text": {"value": "0.85 V"}}}
]
},
{
"width": 348, "height": 74,
"transform": [{"filter": "datum.r === 'OCP'"}],
"encoding": {"x": {"field": "e", "type": "quantitative", "scale": {"domain": [68.65, 79], "reverse": true, "nice": false, "zero": false}, "axis": {"values": [69, 70, 71, 72, 73, 74, 75, 76, 77, 78], "labelExpr": "datum.value % 2 === 0 ? datum.label : ''", "title": "Binding energy (eV)", "tickSize": 5, "labelPadding": 2, "titlePadding": 7, "domainWidth": 1.2, "tickWidth": 1.2}}},
"layer": [
{"mark": {"type": "area", "color": "#7dc95e", "interpolate": "monotone", "clip": true}, "encoding": {"y": {"field": "g", "type": "quantitative", "scale": {"domain": [-8, 66], "nice": false, "zero": false}, "axis": null}, "y2": {"datum": 0}}},
{"mark": {"type": "area", "color": "#fff27c", "interpolate": "monotone", "clip": true, "line": {"color": "#e9cd35", "strokeWidth": 1}}, "encoding": {"y": {"field": "yl", "type": "quantitative", "scale": {"domain": [-8, 66], "nice": false, "zero": false}, "axis": null}, "y2": {"datum": 0}}},
{"transform": [{"filter": "datum.e === 79"}], "mark": {"type": "rule", "color": "#c8141e", "strokeWidth": 2}, "encoding": {"x": {"datum": 77.9, "axis": {"values": [69, 70, 71, 72, 73, 74, 75, 76, 77, 78], "labelExpr": "datum.value % 2 === 0 ? datum.label : ''", "title": "Binding energy (eV)", "tickSize": 5, "labelPadding": 2, "titlePadding": 7, "domainWidth": 1.2, "tickWidth": 1.2}}, "x2": {"datum": 70.05}, "y": {"datum": 0, "axis": null}}},
{"mark": {"type": "point", "filled": false, "color": "#a9a9a9", "size": 22, "strokeWidth": 0.8, "clip": true}, "encoding": {"y": {"field": "d", "type": "quantitative", "scale": {"domain": [-8, 66], "nice": false, "zero": false}, "axis": null}}},
{"mark": {"type": "line", "color": "#3a3a3a", "strokeWidth": 2, "interpolate": "monotone", "clip": true}, "encoding": {"y": {"field": "f", "type": "quantitative", "scale": {"domain": [-8, 66], "nice": false, "zero": false}, "axis": null}}},
{"transform": [{"filter": "datum.e === 79"}], "mark": {"type": "text", "align": "left", "baseline": "middle", "fontSize": 13, "color": "#111111"}, "encoding": {"x": {"datum": 78.84, "axis": {"values": [69, 70, 71, 72, 73, 74, 75, 76, 77, 78], "labelExpr": "datum.value % 2 === 0 ? datum.label : ''", "title": "Binding energy (eV)", "tickSize": 5, "labelPadding": 2, "titlePadding": 7, "domainWidth": 1.2, "tickWidth": 1.2}}, "y": {"datum": 13, "axis": null}, "text": {"value": "OCP"}}}
]
}
]
},
{
"data": {"name": "xas"},
"width": 247, "height": 417,
"title": {"text": "b)", "anchor": "start", "frame": "group", "dx": -34, "offset": -21, "fontSize": 22, "fontWeight": "normal"},
"mark": {"type": "line", "interpolate": "monotone", "strokeWidth": 1.8, "clip": true},
"encoding": {
  "x": {"field": "e", "type": "quantitative", "scale": {"domain": [528, 533.5], "nice": false, "zero": false}, "axis": {"values": [528, 529, 530, 531, 532, 533], "labelExpr": "datum.value % 2 === 0 ? datum.label : ''", "title": "Excitation energy (eV)", "tickSize": 5, "labelPadding": 2, "titlePadding": 7, "domainWidth": 1.2, "tickWidth": 1.2}},
  "y": {"field": "t", "type": "quantitative", "scale": {"domain": [0, 4.17], "nice": false, "zero": false}, "axis": {"title": "TEY signal (normalized)", "labels": false, "ticks": false, "domain": false, "titleX": -20}},
  "color": {"field": "s", "type": "nominal", "sort": ["1.85 V", "1.45 V", "1.25 V", "1.05 V", "0.85 V", "OCP"], "scale": {"domain": ["1.85 V", "1.45 V", "1.25 V", "1.05 V", "0.85 V", "OCP"], "range": ["#ec3e3e", "#22c822", "#22b9c6", "#2b4ce0", "#9322c6", "#000000"]}, "legend": {"title": "O K-edge", "orient": "none", "legendX": 0, "legendY": 16, "symbolType": "M-0.47,0H3.8", "symbolSize": 225, "symbolStrokeWidth": 2, "rowPadding": 1, "titlePadding": 5, "labelOffset": 23}}
}
}
],
"spacing": 26
}
